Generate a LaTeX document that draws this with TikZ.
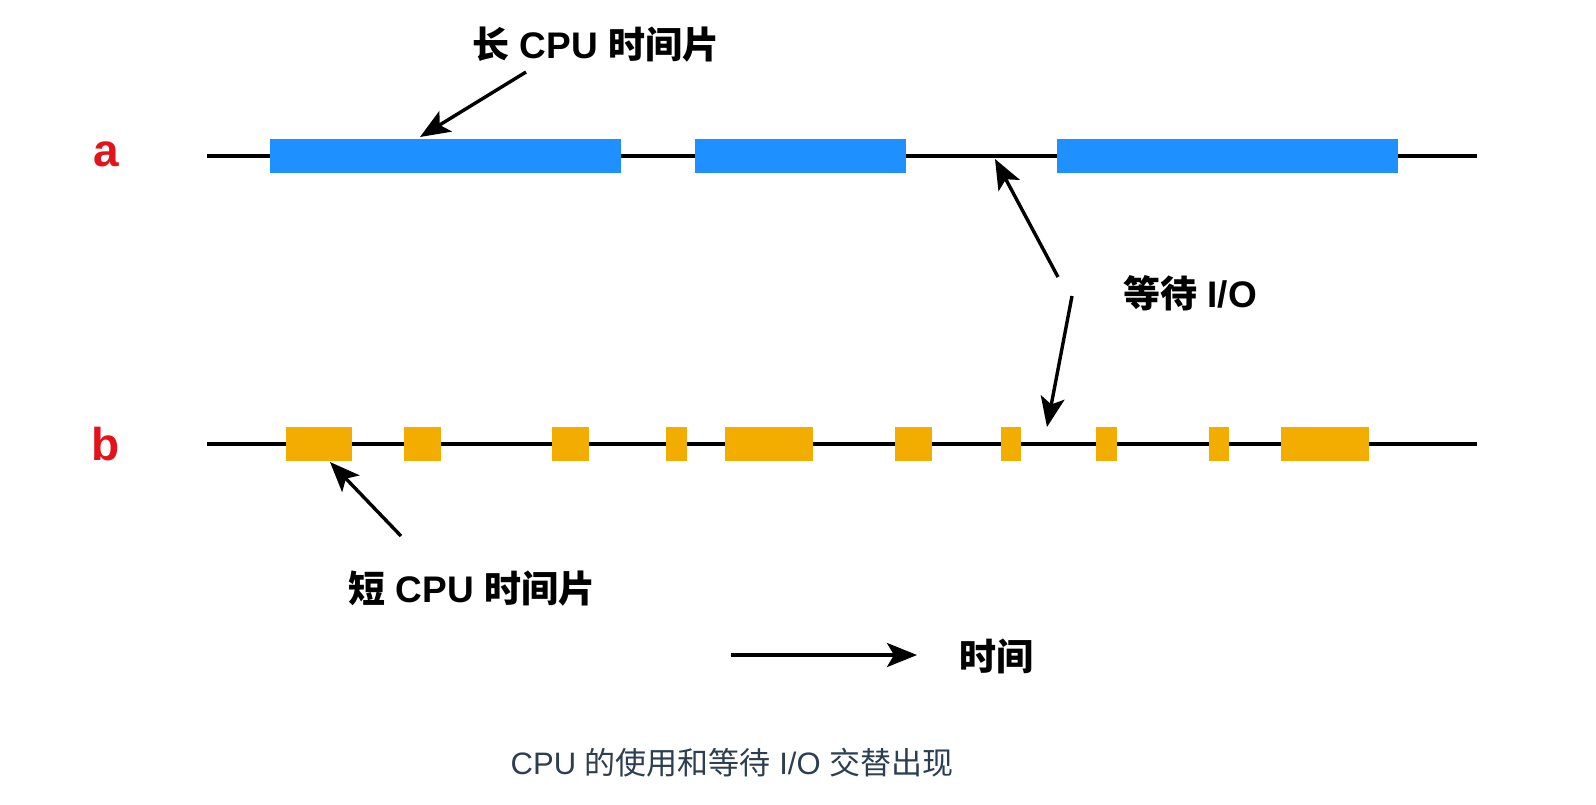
\documentclass[tikz,border=0pt]{standalone}
\usepackage{fontspec}
\setmainfont{Liberation Sans}
\newfontfamily\cjk{Noto Sans CJK SC}
\newfontfamily\cjkb{Noto Sans CJK SC Bold}
\usetikzlibrary{arrows.meta}
\definecolor{barblue}{HTML}{1E90FF}
\definecolor{barorange}{HTML}{F2AD00}
\definecolor{lblred}{HTML}{E3121B}
\definecolor{capcol}{HTML}{2C3E50}
\tikzset{
  axisline/.style={line width=1.8pt, black},
  pointer/.style={line width=1.7pt, black, -{Stealth[length=15pt,width=12pt,inset=3.5pt]}},
  bluebar/.style={fill=barblue},
  orangebar/.style={fill=barorange},
  rowlabel/.style={text=lblred, font=\fontsize{23pt}{26pt}\selectfont\bfseries},
  boldlabel/.style={font=\fontsize{18.5pt}{22pt}\selectfont\bfseries, inner sep=0pt},
  caption/.style={text=capcol, font=\fontsize{15.5pt}{18pt}\selectfont, inner sep=0pt}
}
\begin{document}
\begin{tikzpicture}[x=0.5pt,y=-0.5pt]
\useasboundingbox (0,0) rectangle (1596,804);
% row a
\draw[axisline] (207,156) -- (1477,156);
\foreach \l/\r in {270/621, 695/906, 1057/1398}
  \fill[bluebar] (\l,139) rectangle (\r,173);
% row b
\draw[axisline] (207,444) -- (1477,444);
\foreach \l/\r in {286/352, 404/441, 552/589, 666/687, 725/813, 895/932, 1001/1021, 1096/1117, 1209/1229, 1281/1369}
  \fill[orangebar] (\l,427) rectangle (\r,461);
% row labels
\node[rowlabel] (la) at (106,154) {a};
\node[rowlabel] (lb) at (106,444) {b};
% text labels
\node[boldlabel] (long) at (596,45) {{\cjkb 长} CPU {\cjkb 时间片}};
\node[boldlabel] (wait) at (1190,293) {{\cjkb 等待} I/O};
\node[boldlabel] (short) at (472,589) {{\cjkb 短} CPU {\cjkb 时间片}};
\node[boldlabel] (time) at (996,656) {\cjkb 时间};
\node[caption] (cap) at (732,763) {CPU {\cjk 的使用和等待} I/O {\cjk 交替出现}};
% arrow endpoints
\coordinate (l0) at (526,72);
\coordinate (l1) at (420,137);
\coordinate (w0) at (1058,277);
\coordinate (w1) at (995,159);
\coordinate (v0) at (1072,296);
\coordinate (v1) at (1047,427);
\coordinate (s0) at (401,536);
\coordinate (s1) at (330,462);
\coordinate (t0) at (731,655);
\coordinate (t1) at (917,655);
\draw[pointer] (l0) -- (l1);
\draw[pointer] (w0) -- (w1);
\draw[pointer] (v0) -- (v1);
\draw[pointer] (s0) -- (s1);
\draw[pointer] (t0) -- (t1);
\end{tikzpicture}
\end{document}
